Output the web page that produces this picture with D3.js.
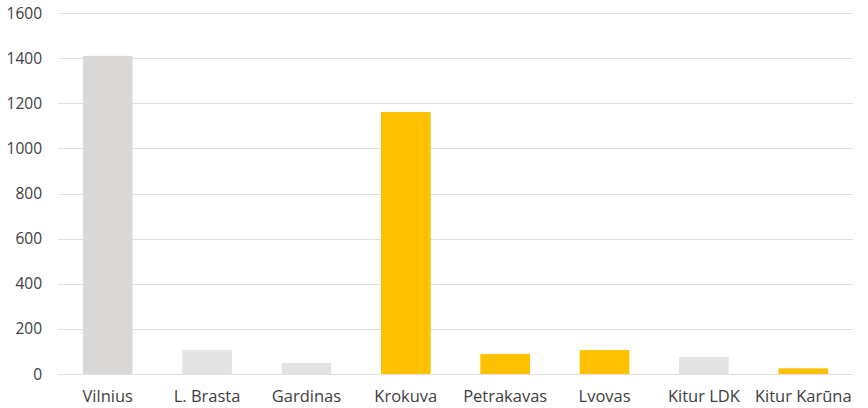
<!DOCTYPE html>
<html>
<head>
<meta charset="utf-8">
<script src="https://cdn.jsdelivr.net/npm/d3@7"></script>
<style>
  body { margin: 0; background: #fff; }
  svg text { font-family: "Open Sans", sans-serif; fill: #404040; }
</style>
</head>
<body>
<svg id="chart" width="868" height="408"></svg>
<script>
const categories = ['Vilnius', 'L. Brasta', 'Gardinas', 'Krokuva', 'Petrakavas', 'Lvovas', 'Kitur LDK', 'Kitur Karūna'];
const values = [1410, 106, 49, 1161, 89, 106, 75, 25];
const groups = ['ldk0', 'ldk', 'ldk', 'karuna', 'karuna', 'karuna', 'ldk', 'karuna'];
const yTicks = [0, 200, 400, 600, 800, 1000, 1200, 1400, 1600];

const colors = { ldk0: '#d9d8d7', ldk: '#e3e3e3', karuna: '#ffc000' };

const margin = { top: 13, right: 15, bottom: 34, left: 58 };
const width = 868, height = 408;

const svg = d3.select('#chart');

const x = d3.scaleBand()
  .domain(categories)
  .range([margin.left, width - margin.right])
  .paddingInner(0.5)
  .paddingOuter(0.25);

const y = d3.scaleLinear()
  .domain([0, 1600])
  .range([height - margin.bottom, margin.top]);

// gridlines
svg.append('g')
  .selectAll('line')
  .data(yTicks)
  .join('line')
  .attr('x1', margin.left)
  .attr('x2', width - margin.right)
  .attr('y1', d => Math.round(y(d)) + 0.5)
  .attr('y2', d => Math.round(y(d)) + 0.5)
  .attr('stroke', '#e0e0e0')
  .attr('stroke-width', 1);

// y labels
svg.append('g')
  .selectAll('text')
  .data(yTicks)
  .join('text')
  .attr('x', 42)
  .attr('y', d => y(d))
  .attr('dy', '0.36em')
  .attr('text-anchor', 'end')
  .attr('font-size', 15.5)
  .text(d => d);

// bars
svg.append('g')
  .selectAll('rect')
  .data(values)
  .join('rect')
  .attr('x', (d, i) => x(categories[i]))
  .attr('width', x.bandwidth())
  .attr('y', d => y(d))
  .attr('height', d => y(0) - y(d))
  .attr('fill', (d, i) => colors[groups[i]]);

// x labels
svg.append('g')
  .selectAll('text')
  .data(categories)
  .join('text')
  .attr('x', d => x(d) + x.bandwidth() / 2)
  .attr('y', 402)
  .attr('text-anchor', 'middle')
  .attr('font-size', 16.5)
  .text(d => d);
</script>
</body>
</html>
